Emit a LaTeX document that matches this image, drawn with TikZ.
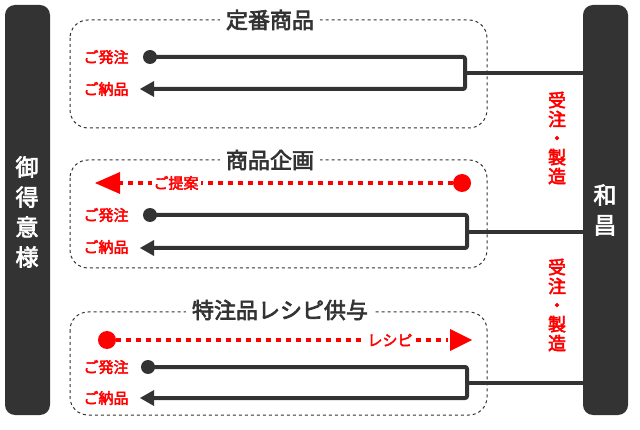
\documentclass[tikz,border=0pt]{standalone}
\usepackage{fontspec}
\newfontfamily\jp{Noto Sans CJK JP}[FakeBold=3]
\usetikzlibrary{arrows.meta}
\definecolor{dk}{HTML}{333333}
\tikzset{
 bar/.style={fill=dk,rounded corners=10pt,draw=none},
 grp/.style={draw=dk,dashed,rounded corners=18pt,line width=1pt},
 ttl/.style={fill=white,text=dk,font=\jp\fontsize{22}{22}\selectfont,inner xsep=6pt},
 rlab/.style={text=red,font=\jp\fontsize{15}{15}\selectfont},
 flow/.style={draw=dk,line width=4pt,rounded corners=2pt},
 dotd/.style={fill=dk,circle,inner sep=0pt,minimum size=14pt},
 reddot/.style={fill=red,circle,inner sep=0pt,minimum size=18pt},
 redline/.style={draw=red,line width=4.5pt,dash pattern=on 5pt off 5pt},
 vtxt/.style={align=center,font=\jp\fontsize{23}{30}\selectfont,text=white},
 rv/.style={align=center,font=\jp\fontsize{18}{19}\selectfont,text=red}
}
\begin{document}
\begin{tikzpicture}[x=1pt,y=-1pt]
\useasboundingbox (0,0) rectangle (640,430);
\fill[bar] (5,5) rectangle (50,415);
\fill[bar] (583,5) rectangle (628,415);
\node[vtxt] (L) at (27,212) {御\\得\\意\\様};
\node[vtxt] (R) at (605,210) {和\\昌};
\node[rv] (m1) at (557,138) {受\\注\\・\\製\\造};
\node[rv] (m2) at (557,305) {受\\注\\・\\製\\造};
% box 1
\draw[grp] (70,20) rectangle (487,128);
\node[ttl] (t1) at (270,20) {定番商品};
\node[rlab] (o1) at (106,57) {ご発注};
\node[rlab] (d1) at (106,89) {ご納品};
\node[dotd] (p1) at (150,57) {};
\coordinate (a1) at (140,89);
\draw[flow] (p1.center) -- (465,57) -- (465,89) -- (153,89);
\fill[dk] (a1) -- (154,81) -- (154,97) -- cycle;
\draw[dk,line width=4pt] (465,73) -- (583,73);
% box 2
\draw[grp] (70,160) rectangle (487,268);
\node[ttl] (t2) at (270,160) {商品企画};
\node[reddot] (q2) at (462,183) {};
\coordinate (e2) at (95,183);
\draw[redline] (q2) -- (118,183);
\fill[red] (e2) -- (120,172) -- (120,194) -- cycle;
\node[rlab,fill=white,inner xsep=2pt] (s2) at (176,183) {ご提案};
\node[rlab] (o2) at (106,215) {ご発注};
\node[rlab] (d2) at (106,247) {ご納品};
\node[dotd] (p2) at (150,215) {};
\draw[flow] (p2.center) -- (467,215) -- (467,248) -- (153,248);
\fill[dk] (140,248) -- (154,240) -- (154,256) -- cycle;
\draw[dk,line width=4pt] (467,232) -- (583,232);
% box 3
\draw[grp] (70,312) rectangle (487,415);
\node[ttl] (t3) at (280,310) {特注品レシピ供与};
\node[reddot] (q3) at (107,340) {};
\coordinate (e3) at (472,340);
\draw[redline] (q3) -- (448,340);
\fill[red] (e3) -- (450,329) -- (450,351) -- cycle;
\node[rlab,fill=white,inner xsep=2pt] (s3) at (390,340) {レシピ};
\node[rlab] (o3) at (106,367) {ご発注};
\node[rlab] (d3) at (106,398) {ご納品};
\node[dotd] (p3) at (148,367) {};
\draw[flow] (p3.center) -- (467,367) -- (467,398) -- (153,398);
\fill[dk] (140,398) -- (154,390) -- (154,406) -- cycle;
\draw[dk,line width=4pt] (467,383) -- (583,383);
\end{tikzpicture}
\end{document}
